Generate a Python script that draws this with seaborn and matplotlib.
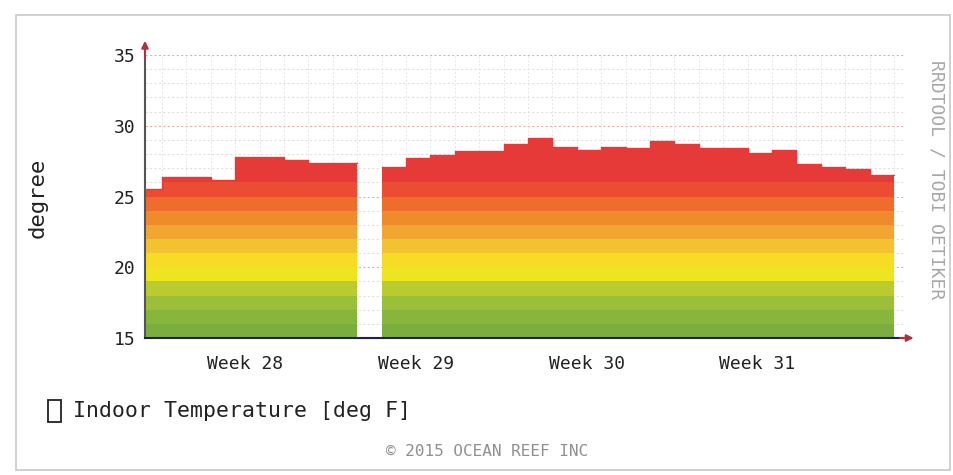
import numpy as np
import pandas as pd
import matplotlib
matplotlib.use("Agg")
import matplotlib.pyplot as plt
import seaborn as sns
from matplotlib.patches import Rectangle

# ---- data ----
day = [-1, 0, 1, 2, 3, 4, 5, 6, 7, 8, 9, 10, 11, 12, 13, 14, 15, 16, 17, 18, 19,
       20, 21, 22, 23, 24, 25, 26, 27, 28, 29]
temp = [25.5, 26.35, 26.35, 26.2, 27.8, 27.8, 27.6, 27.4, 27.4, np.nan, 27.05,
        27.7, 27.9, 28.2, 28.25, 28.7, 29.1, 28.5, 28.3, 28.5, 28.4, 28.9, 28.7,
        28.4, 28.4, 28.1, 28.3, 27.3, 27.1, 26.95, 26.5]
week_pos = [3.4, 10.4, 17.4, 24.4]
week_labels = ["Week 28", "Week 29", "Week 30", "Week 31"]
y_ticks = [15, 20, 25, 30, 35]
band_edges = [15, 16, 17, 18, 19, 20, 21, 22, 23, 24, 25, 26, 40]
band_colors = ["#7aaf3f", "#86b63b", "#9bbf38", "#b9cb2f", "#ede520", "#f6dc25",
               "#f2c230", "#f0a731", "#ef8b2b", "#ee6c2c", "#ea4d31", "#e63a38"]

sns.set_style("white")
mono = ["DejaVu Sans Mono"]

fig = plt.figure(figsize=(9.54, 4.75), dpi=100)
W, H = 954, 475
ax = fig.add_axes([145 / W, 1 - 338 / H, 760 / W, 283 / H])

# outer frame
fig.patches.append(Rectangle((16 / W, 5 / H), 934 / W, 455 / H, transform=fig.transFigure,
                             fill=False, edgecolor="#c8c8c8", lw=1.2))

df = pd.DataFrame({"day": np.array(day, dtype=float), "temp": np.array(temp, dtype=float)})
seg_id = df["temp"].isna().cumsum()

for _, d in df.groupby(seg_id):
    d = d.dropna()
    if d.empty:
        continue
    xe = np.append(d["day"].values, d["day"].values[-1] + 1)
    ve = np.append(d["temp"].values, d["temp"].values[-1])
    # gradient bands
    for lo, hi, c in zip(band_edges[:-1], band_edges[1:], band_colors):
        top = np.clip(ve, lo, hi)
        ax.fill_between(xe, lo, top, step="post", color=c, lw=0, zorder=2)
    # top outline via seaborn
    sdf = pd.DataFrame({"day": xe, "temp": ve})
    sns.lineplot(data=sdf, x="day", y="temp", drawstyle="steps-post", color="#e63a38",
                 lw=1, ax=ax, zorder=3, estimator=None)

ax.set_xlim(-0.7, 30.45)
ax.set_ylim(15, 35)

# grid
for yv in range(16, 36):
    col = "#e6b0b0" if yv % 5 == 0 else "#e0e0e0"
    ax.axhline(yv, color=col, lw=0.8, ls=(0, (2, 2)), zorder=1)
for xv in range(0, 31):
    ax.axvline(xv, color="#e6e6e6", lw=0.7, ls=(0, (2, 2)), zorder=1)

for s in ["top", "right"]:
    ax.spines[s].set_visible(False)
ax.spines["left"].set_color("#555555")
ax.spines["left"].set_linewidth(1.5)
ax.spines["bottom"].set_color("#202050")
ax.spines["bottom"].set_linewidth(1.5)

# arrows
ax.annotate("", xy=(0, 1.06), xytext=(0, 0.98), xycoords="axes fraction",
            arrowprops=dict(arrowstyle="-|>", color="#b03040", lw=1.5, mutation_scale=10),
            annotation_clip=False)
ax.annotate("", xy=(1.015, 0), xytext=(0.99, 0), xycoords="axes fraction",
            arrowprops=dict(arrowstyle="-|>", color="#b03040", lw=1.5, mutation_scale=10),
            annotation_clip=False)

ax.set_yticks(y_ticks)
ax.set_yticklabels([str(t) for t in y_ticks], fontsize=13, family=mono, color="#222222")
ax.set_xticks(week_pos)
ax.set_xticklabels(week_labels, fontsize=13, family=mono, color="#222222")
ax.tick_params(axis="y", length=4, width=1, color="#555555", pad=3)
ax.tick_params(axis="x", length=0, pad=12)
ax.set_xlabel("")
ax.set_ylabel("")

fig.text(38 / W, 1 - 198 / H, "degree", rotation=90, ha="center", va="center",
         fontsize=16, family=mono, color="#222222")
fig.text(937 / W, 1 - 180 / H, "RRDTOOL / TOBI OETIKER", rotation=270, ha="center",
         va="center", fontsize=13, family=mono, color="#a8a8a8")

# legend
fig.patches.append(Rectangle((48 / W, 1 - 422 / H), 13 / W, 22 / H, transform=fig.transFigure,
                             fill=False, edgecolor="#222222", lw=1.3))
fig.text(73 / W, 1 - 411 / H, "Indoor Temperature [deg F]", ha="left", va="center",
         fontsize=15.5, family=mono, color="#222222")
fig.text(487 / W, 1 - 451 / H, "\u00a9 2015 OCEAN REEF INC", ha="center", va="center",
         fontsize=11.5, family=mono, color="#909090")

fig.savefig("out.png", dpi=100, facecolor="white")
